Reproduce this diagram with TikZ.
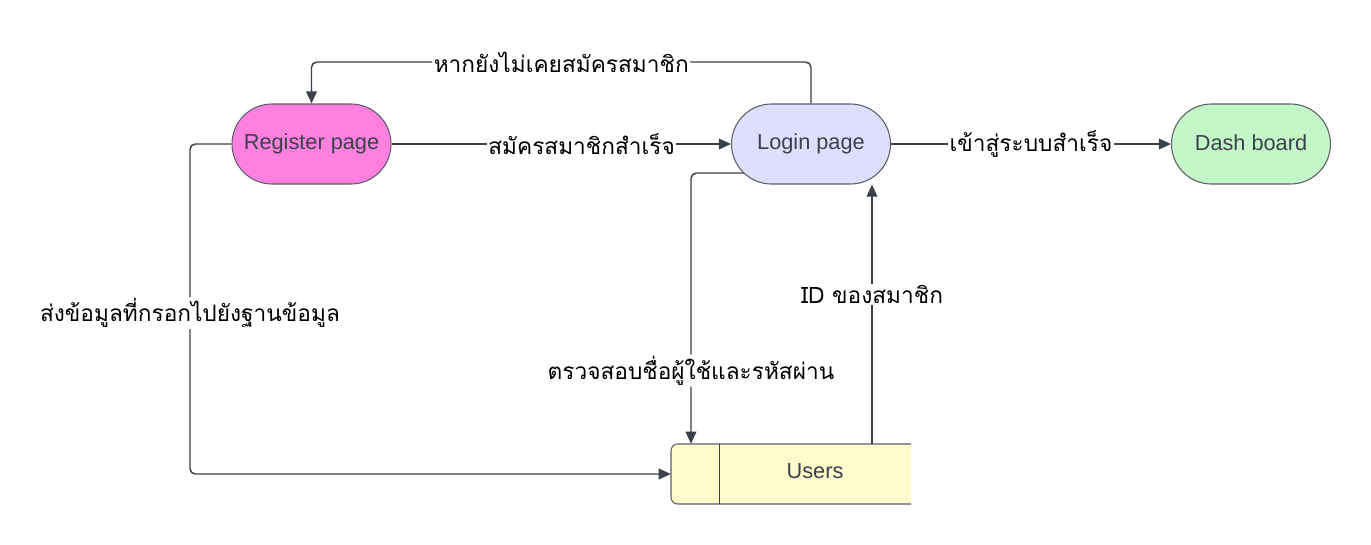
\documentclass[tikz,border=0pt]{standalone}
\usepackage{fontspec}
\setmainfont{Liberation Sans}
\newfontfamily\thai[Script=Thai]{Loma}
\usetikzlibrary{arrows.meta,calc}
\definecolor{lineC}{HTML}{3A414A}
\definecolor{bordC}{HTML}{5E5E66}
\definecolor{pinkC}{HTML}{FF80DF}
\definecolor{lavC}{HTML}{DEDEFF}
\definecolor{greenC}{HTML}{C3F7C8}
\definecolor{yelC}{HTML}{FFFBCC}
\begin{document}
\begin{tikzpicture}[x=0.75pt,y=-0.75pt,
  pagebox/.style={draw=bordC,line width=0.8pt,rounded corners=30pt,minimum width=119.25pt,minimum height=60pt,inner sep=0pt,font=\fontsize{16.3}{18}\selectfont,text=lineC},
  conn/.style={draw=lineC,line width=1.1pt},
  arr/.style={conn,-{Triangle[length=9pt,width=8pt]}},
  lbl/.style={fill=white,inner sep=1pt,font=\thai\fontsize{17}{20}\selectfont,text=black}]
\useasboundingbox (0,0) rectangle (1371,544);
% nodes
\node[pagebox,fill=pinkC] (register) at (311.5,144) {\raisebox{1.5pt}{Register page}};
\node[pagebox,fill=lavC] (login) at (811,144) {\raisebox{1.5pt}{Login page}};
\node[pagebox,fill=greenC] (dash) at (1251,144) {\raisebox{1.5pt}{Dash board}};
% users store
\node[minimum width=180pt,minimum height=45pt,inner sep=0pt] (users) at (791,474) {};
\fill[yelC] (911,444) [rounded corners=5pt] -- (671,444) -- (671,504) [sharp corners] -- (911,504) -- cycle;
\draw[bordC,line width=0.8pt] (911,444) [rounded corners=5pt] -- (671,444) -- (671,504) [sharp corners] -- (911,504);
\draw[lineC,line width=0.6pt] (719,444) -- (719,504);
\node[font=\fontsize{16.3}{18}\selectfont,text=lineC] (userstxt) at (815,471) {Users};
% connectors
\coordinate (top) at (0,62);
\coordinate (leftx) at (190,0);
\coordinate (midx) at (691,0);
\coordinate (idx) at (872,0);
\draw[arr,rounded corners=4pt] (login.north) -- (login.north |- top) -- node[lbl]{หากยังไม่เคยสมัครสมาชิก} (register.north |- top) -- (register.north);
\draw[arr] (register.east) -- node[lbl,pos=0.56]{สมัครสมาชิกสำเร็จ} (login.west);
\draw[arr] (login.east) -- node[lbl,pos=0.5]{เข้าสู่ระบบสำเร็จ} (dash.west);
\draw[arr,rounded corners=4pt] (register.west) -- (register.west -| leftx) -- node[lbl,pos=0.512]{ส่งข้อมูลที่กรอกไปยังฐานข้อมูล} (leftx |- users.west) -- (users.west);
\draw[arr,rounded corners=4pt] ($(login.center)+(-67.5,29)$) -- (midx |- 0,173) -- node[lbl,pos=0.73]{ตรวจสอบชื่อผู้ใช้และรหัสผ่าน} (midx |- users.north);
\draw[arr] (idx |- users.north) -- node[lbl,pos=0.575]{ID ของสมาชิก} (idx |- login.south);
\end{tikzpicture}
\end{document}
